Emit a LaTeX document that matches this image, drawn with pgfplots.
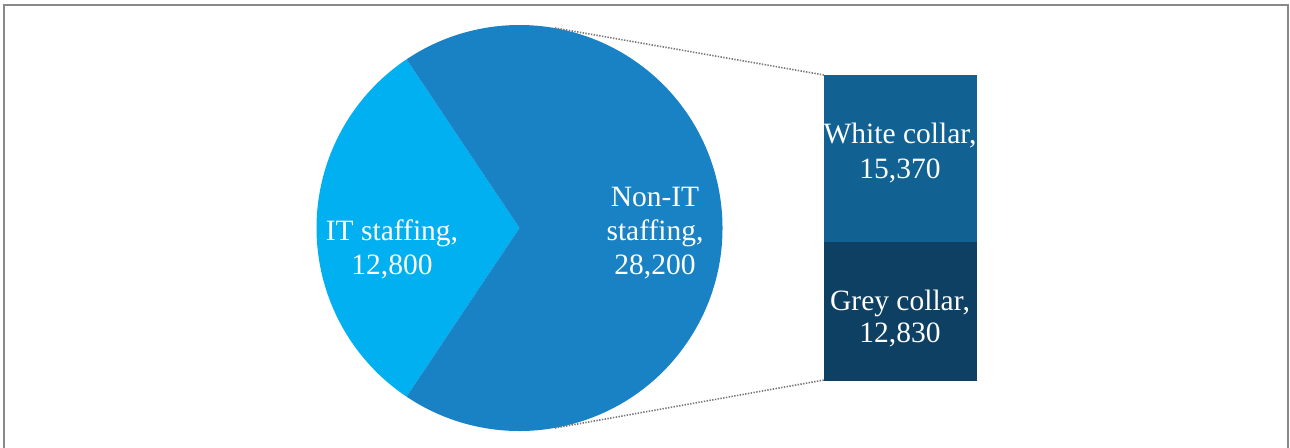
\documentclass[border=0pt]{standalone}
\usepackage{pgfplots}
\pgfplotsset{compat=1.18}
\usepackage{fontspec}
\setmainfont{Liberation Serif}
\definecolor{itcol}{RGB}{0,176,240}
\definecolor{nonitcol}{RGB}{24,130,196}
\definecolor{whitecol}{RGB}{17,98,146}
\definecolor{greycol}{RGB}{14,64,100}
\definecolor{bordercol}{RGB}{137,137,137}
\definecolor{dotcol}{RGB}{120,120,120}
\begin{document}
\begin{tikzpicture}
\useasboundingbox (0,0) rectangle (1290pt,447pt);
\clip (0,0) rectangle (1290pt,447pt);
% values (thousands)
\def\IT{12.8}
\def\NonIT{28.2}
\pgfmathsetmacro{\Total}{\IT+\NonIT}
\pgfmathsetmacro{\ITang}{360*\IT/\Total}
\pgfmathsetmacro{\aStart}{180-\ITang/2}
\pgfmathsetmacro{\aEnd}{180+\ITang/2}
\pgfmathsetmacro{\bEnd}{\aStart+360}
\begin{axis}[
  at={(824pt,66.3pt)}, anchor=south west,
  scale only axis, width=153pt, height=305.7pt,
  xmin=-0.5, xmax=0.5, ymin=0, ymax=28200,
  ybar stacked, bar width=153pt,
  hide axis, clip=false]
  \addplot[fill=greycol, draw=none] coordinates {(0,12830)};
  \addplot[fill=whitecol, draw=none] coordinates {(0,15370)};
\end{axis}
\begin{axis}[
  at={(0,0)}, anchor=south west,
  scale only axis, width=1290pt, height=447pt,
  xmin=0, xmax=1290, ymin=0, ymax=447,
  hide axis, clip=false]
  % border
  \draw[bordercol, line width=2pt] (axis cs:4.2,-20) -- (axis cs:4.2,442) -- (axis cs:1287.6,442) -- (axis cs:1287.6,-20);
  % pie
  \fill[itcol] (axis cs:519.5,219) -- ++(\aStart:203pt) arc[start angle=\aStart, end angle=\aEnd, radius=203pt] -- cycle;
  \fill[nonitcol] (axis cs:519.5,219) -- ++(\aEnd:203pt) arc[start angle=\aEnd, end angle=\bEnd, radius=203pt] -- cycle;
  % connector lines
  \draw[dotcol, line width=1.6pt, dash pattern=on 1.4pt off 1.4pt] (axis cs:555,419) -- (axis cs:824,372);
  \draw[dotcol, line width=1.6pt, dash pattern=on 1.4pt off 1.4pt] (axis cs:555,19) -- (axis cs:824,67);
  % labels
  \node[text=white, align=center, font=\fontsize{29.5}{34}\selectfont] at (axis cs:392,198) {IT staffing,\\12,800};
  \node[text=white, align=center, font=\fontsize{29.5}{34}\selectfont] at (axis cs:655,214) {Non-IT\\staffing,\\28,200};
  \node[text=white, align=center, font=\fontsize{29.5}{35}\selectfont] at (axis cs:900,294) {White collar,\\15,370};
  \node[text=white, align=center, font=\fontsize{29.5}{32}\selectfont] at (axis cs:900,128) {Grey collar,\\12,830};
\end{axis}
\end{tikzpicture}
\end{document}
